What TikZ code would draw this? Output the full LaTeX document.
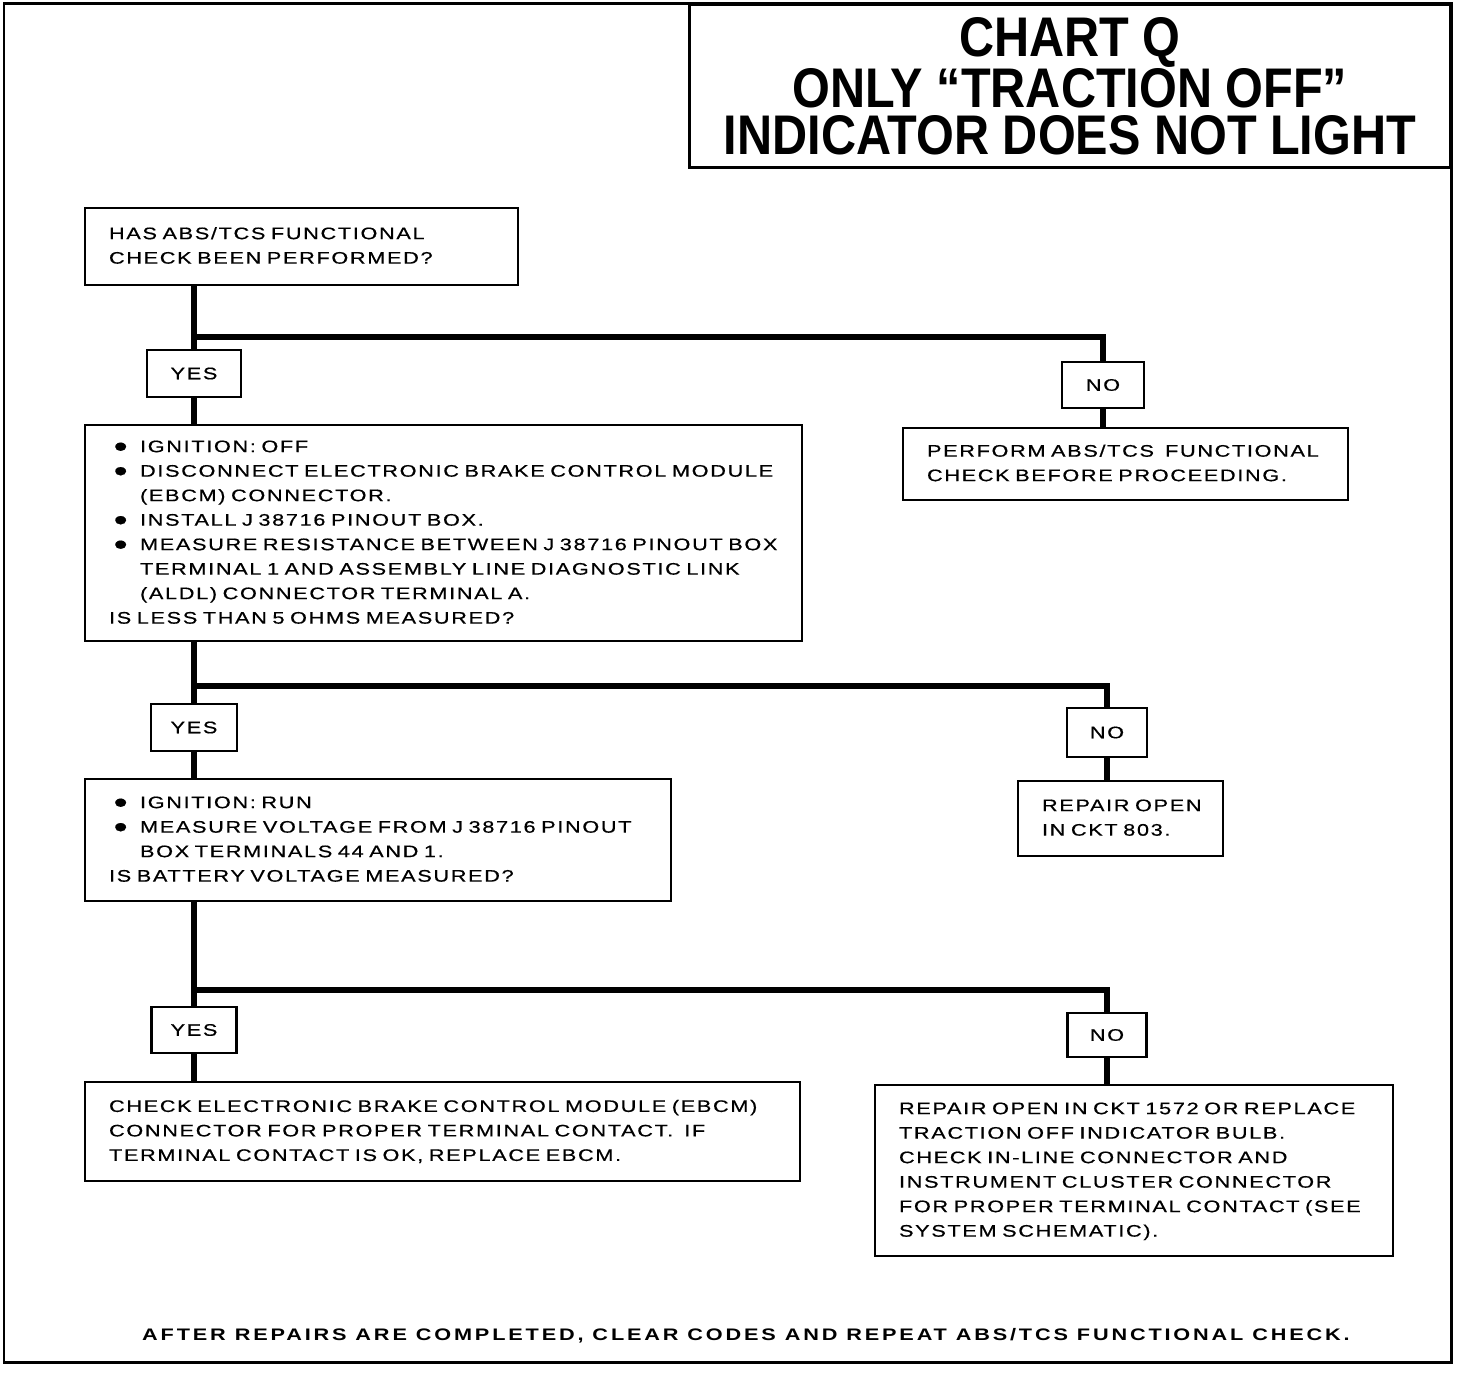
\documentclass[tikz,border=0pt]{standalone}
\usepackage{fontspec}
\setmainfont{Liberation Sans}
\newfontfamily\bodyfont[FakeStretch=1.3,LetterSpace=10,WordSpace=1.5,FakeBold=0.6]{Liberation Sans}
\newfontfamily\footfont[FakeStretch=1.3,LetterSpace=17]{Liberation Sans}
\newfontfamily\titlefont[FakeStretch=0.87]{Liberation Sans}
\usetikzlibrary{positioning, calc}

\newcommand{\bul}{\makebox[0.62cm][l]{\hspace{0.08cm}{\fontsize{11}{0}\selectfont\char"25CF}}}
\newcommand{\ind}{\hspace*{0.62cm}}

\begin{document}
\begin{tikzpicture}[
    x=0.02cm, y=-0.02cm,
    qbox/.style={draw, line width=1.5pt, inner xsep=0.48cm, inner ysep=0pt, align=left,
        font=\bodyfont\fontsize{9.5}{13.94}\selectfont},
    ansbox/.style={draw, line width=1.5pt, inner sep=0pt, font=\bodyfont\fontsize{9.5}{13.94}\selectfont},
    wire/.style={line width=3.8pt}
]
\useasboundingbox (0,0) rectangle (1472,1374);

% Frame and title
\draw[line width=1.7pt] (4,3) rectangle (1451,1362);
\node[draw, line width=1.7pt, minimum width=15.24cm, minimum height=3.26cm, align=center,
      font=\titlefont\bfseries\fontsize{31.8}{26.5}\selectfont] (title) at (1070,86)
      {CHART Q\\ONLY “TRACTION OFF”\\INDICATOR DOES NOT LIGHT};

% Questions
\node[qbox, text width=7.70cm, minimum height=1.54cm] (q1) at (301.5,246.5)
  {\begin{tabular}{@{}l@{}}HAS ABS/TCS FUNCTIONAL\\CHECK BEEN PERFORMED?\end{tabular}};
\node[qbox, text width=13.38cm, minimum height=4.32cm] (q2) at (443.5,533)
  {\begin{tabular}{@{}l@{}}\bul IGNITION: OFF\\
   \bul DISCONNECT ELECTRONIC BRAKE CONTROL MODULE\\
   \ind (EBCM) CONNECTOR.\\
   \bul INSTALL J 38716 PINOUT BOX.\\
   \bul MEASURE RESISTANCE BETWEEN J 38716 PINOUT BOX\\
   \ind TERMINAL 1 AND ASSEMBLY LINE DIAGNOSTIC LINK\\
   \ind (ALDL) CONNECTOR TERMINAL A.\\
   IS LESS THAN 5 OHMS MEASURED?\end{tabular}};
\node[qbox, text width=10.76cm, minimum height=2.44cm] (q3) at (378,840)
  {\begin{tabular}{@{}l@{}}\bul IGNITION: RUN\\
   \bul MEASURE VOLTAGE FROM J 38716 PINOUT\\
   \ind BOX TERMINALS 44 AND 1.\\
   IS BATTERY VOLTAGE MEASURED?\end{tabular}};

% Answers
\node[ansbox, minimum width=1.88cm, minimum height=0.94cm] (yes1) at (194,373.5) {YES};
\node[ansbox, minimum width=1.64cm, minimum height=0.92cm] (no1) at (1103,385) {NO};
\node[ansbox, minimum width=1.72cm, minimum height=0.94cm] (yes2) at (194,727.5) {YES};
\node[ansbox, minimum width=1.60cm, minimum height=0.98cm] (no2) at (1107,732.5) {NO};
\node[ansbox, minimum width=1.70cm, minimum height=0.92cm] (yes3) at (194,1030) {YES};
\node[ansbox, minimum width=1.58cm, minimum height=0.88cm] (no3) at (1107,1035) {NO};

% Actions
\node[qbox, text width=7.94cm, minimum height=1.44cm] (act1) at (1125.5,464)
  {\begin{tabular}{@{}l@{}}PERFORM ABS/TCS\ \ FUNCTIONAL\\CHECK BEFORE PROCEEDING.\end{tabular}};
\node[qbox, text width=3.14cm, minimum height=1.50cm] (act2) at (1120.5,818.5)
  {\begin{tabular}{@{}l@{}}REPAIR OPEN\\IN CKT 803.\end{tabular}};
\node[qbox, text width=13.34cm, minimum height=1.98cm] (act3) at (442.5,1131.5)
  {\begin{tabular}{@{}l@{}}CHECK ELECTRONIC BRAKE CONTROL MODULE (EBCM)\\
   CONNECTOR FOR PROPER TERMINAL CONTACT.\ \ IF\\
   TERMINAL CONTACT IS OK, REPLACE EBCM.\end{tabular}};
\node[qbox, text width=9.40cm, minimum height=3.42cm] (act4) at (1134,1170.5)
  {\begin{tabular}{@{}l@{}}REPAIR OPEN IN CKT 1572 OR REPLACE\\
   TRACTION OFF INDICATOR BULB.\\
   CHECK IN-LINE CONNECTOR AND\\
   INSTRUMENT CLUSTER CONNECTOR\\
   FOR PROPER TERMINAL CONTACT (SEE\\
   SYSTEM SCHEMATIC).\end{tabular}};

% Footer
\node[font=\footfont\bfseries\fontsize{9.5}{10}\selectfont] (note) at (746,1336)
  {AFTER REPAIRS ARE COMPLETED, CLEAR CODES AND REPEAT ABS/TCS FUNCTIONAL CHECK.};

% Branch points
\coordinate (br1) at (194,337);
\coordinate (br2) at (194,686);
\coordinate (br3) at (194,990);

% Connections
\draw[wire] (yes1.north |- q1.south) -- (yes1.north);
\draw[wire] (br1) -| (no1.north);
\draw[wire] (yes1.south) -- (yes1.south |- q2.north);
\draw[wire] (no1.south) -- (no1.south |- act1.north);
\draw[wire] (yes2.north |- q2.south) -- (yes2.north);
\draw[wire] (br2) -| (no2.north);
\draw[wire] (yes2.south) -- (yes2.south |- q3.north);
\draw[wire] (no2.south) -- (no2.south |- act2.north);
\draw[wire] (yes3.north |- q3.south) -- (yes3.north);
\draw[wire] (br3) -| (no3.north);
\draw[wire] (yes3.south) -- (yes3.south |- act3.north);
\draw[wire] (no3.south) -- (no3.south |- act4.north);
\end{tikzpicture}
\end{document}
